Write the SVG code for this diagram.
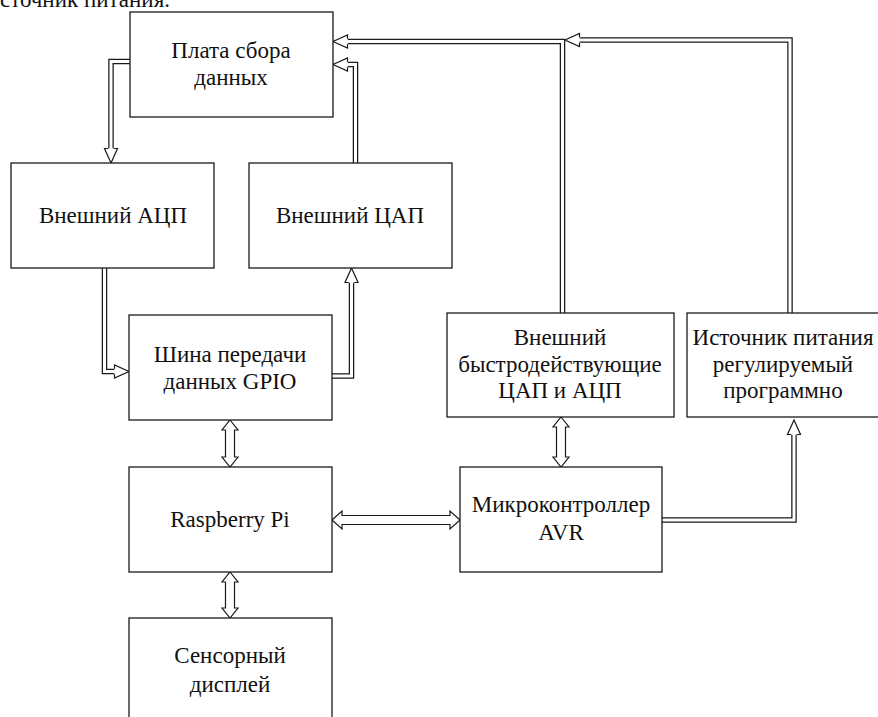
<svg xmlns="http://www.w3.org/2000/svg" width="878" height="717" viewBox="0 0 878 717">
<defs>
<path id="head" d="M-2.75,-14.5 H-6.5 L0,0 L6.5,-14.5 H2.75" fill="#fff" stroke="#1a1a1a" stroke-width="1.2"/>
</defs>
<rect width="878" height="717" fill="#fff"/>
<text x="170" y="7" font-family="Liberation Serif, Times New Roman, serif" font-size="23" fill="#111" text-anchor="end">Источник питания.</text>

<g id="connectors" stroke-linejoin="miter">
  <g fill="none" stroke="#1a1a1a" stroke-width="5.5">
    <path d="M130,61.5 H111 V148.5"/>
    <path d="M355.5,163 V64.5 H347.5"/>
    <path d="M562.5,313 V41.5 H347.5"/>
    <path d="M790,313 V40 H579.5"/>
    <path d="M104.5,268 V371.5 H114.5"/>
    <path d="M332,376 H351.5 V282.5"/>
    <path d="M662,520 H794 V434.5"/>
  </g>
  <g fill="none" stroke="#fff" stroke-width="3">
    <path d="M131,61.5 H111 V149"/>
    <path d="M355.5,164 V64.5 H347"/>
    <path d="M562.5,314 V41.5 H347"/>
    <path d="M790,314 V40 H579"/>
    <path d="M104.5,267 V371.5 H115"/>
    <path d="M331,376 H351.5 V282"/>
    <path d="M661,520 H794 V434"/>
  </g>
  <use href="#head" transform="translate(111,163)"/>
  <use href="#head" transform="translate(333,64.5) rotate(90)"/>
  <use href="#head" transform="translate(333,41.5) rotate(90)"/>
  <use href="#head" transform="translate(565,40) rotate(90)"/>
  <use href="#head" transform="translate(129,371.5) rotate(-90)"/>
  <use href="#head" transform="translate(351.5,268) rotate(180)"/>
  <use href="#head" transform="translate(794,420) rotate(180)"/>
  <g fill="#fff" stroke="#1a1a1a" stroke-width="1.2">
    <polygon points="230,420 238,430 234.5,430 234.5,457 238,457 230,467 222,457 225.5,457 225.5,430 222,430"/>
    <polygon points="230,572 238,582 234.5,582 234.5,608 238,608 230,618 222,608 225.5,608 225.5,582 222,582"/>
    <polygon points="561,417 569,427 565.5,427 565.5,457 569,457 561,467 553,457 556.5,457 556.5,427 553,427"/>
    <polygon points="332,520 342,511 342,515.5 450,515.5 450,511 460,520 450,529 450,524.5 342,524.5 342,529"/>
  </g>
</g>

<g id="nodes" fill="#fff" stroke="#1a1a1a" stroke-width="1.3">
<g id="plata">
  <rect x="130" y="12" width="203" height="105"/>
  <text x="231" y="58" font-family="Liberation Serif, Times New Roman, serif" font-size="23" fill="#111" stroke="none" text-anchor="middle">Плата сбора</text>
  <text x="231" y="85" font-family="Liberation Serif, Times New Roman, serif" font-size="23" fill="#111" stroke="none" text-anchor="middle">данных</text>
</g>
<g id="adc">
  <rect x="11" y="163" width="203" height="105"/>
  <text x="113" y="223" font-family="Liberation Serif, Times New Roman, serif" font-size="23" fill="#111" stroke="none" text-anchor="middle">Внешний АЦП</text>
</g>
<g id="dac">
  <rect x="249" y="163" width="203" height="105"/>
  <text x="350" y="223" font-family="Liberation Serif, Times New Roman, serif" font-size="23" fill="#111" stroke="none" text-anchor="middle">Внешний ЦАП</text>
</g>
<g id="gpio">
  <rect x="129" y="315" width="203" height="105"/>
  <text x="230" y="362" font-family="Liberation Serif, Times New Roman, serif" font-size="23" fill="#111" stroke="none" text-anchor="middle">Шина передачи</text>
  <text x="230" y="389" font-family="Liberation Serif, Times New Roman, serif" font-size="23" fill="#111" stroke="none" text-anchor="middle">данных GPIO</text>
</g>
<g id="fast">
  <rect x="447" y="313" width="227" height="104"/>
  <text x="560" y="345" font-family="Liberation Serif, Times New Roman, serif" font-size="23" fill="#111" stroke="none" text-anchor="middle">Внешний</text>
  <text x="560" y="372" font-family="Liberation Serif, Times New Roman, serif" font-size="23" fill="#111" stroke="none" text-anchor="middle">быстродействующие</text>
  <text x="560" y="398" font-family="Liberation Serif, Times New Roman, serif" font-size="23" fill="#111" stroke="none" text-anchor="middle">ЦАП и АЦП</text>
</g>
<g id="power">
  <rect x="687" y="313" width="193" height="104"/>
  <text x="783" y="345" font-family="Liberation Serif, Times New Roman, serif" font-size="23" fill="#111" stroke="none" text-anchor="middle">Источник питания</text>
  <text x="783" y="372" font-family="Liberation Serif, Times New Roman, serif" font-size="23" fill="#111" stroke="none" text-anchor="middle">регулируемый</text>
  <text x="783" y="398" font-family="Liberation Serif, Times New Roman, serif" font-size="23" fill="#111" stroke="none" text-anchor="middle">программно</text>
</g>
<g id="rpi">
  <rect x="129" y="467" width="203" height="105"/>
  <text x="230" y="527" font-family="Liberation Serif, Times New Roman, serif" font-size="23" fill="#111" stroke="none" text-anchor="middle">Raspberry Pi</text>
</g>
<g id="avr">
  <rect x="460" y="467" width="202" height="105"/>
  <text x="561" y="512" font-family="Liberation Serif, Times New Roman, serif" font-size="23" fill="#111" stroke="none" text-anchor="middle">Микроконтроллер</text>
  <text x="561" y="540" font-family="Liberation Serif, Times New Roman, serif" font-size="23" fill="#111" stroke="none" text-anchor="middle">AVR</text>
</g>
<g id="display">
  <rect x="129" y="618" width="203" height="105"/>
  <text x="230" y="663" font-family="Liberation Serif, Times New Roman, serif" font-size="23" fill="#111" stroke="none" text-anchor="middle">Сенсорный</text>
  <text x="230" y="692" font-family="Liberation Serif, Times New Roman, serif" font-size="23" fill="#111" stroke="none" text-anchor="middle">дисплей</text>
</g>
</g>
</svg>
